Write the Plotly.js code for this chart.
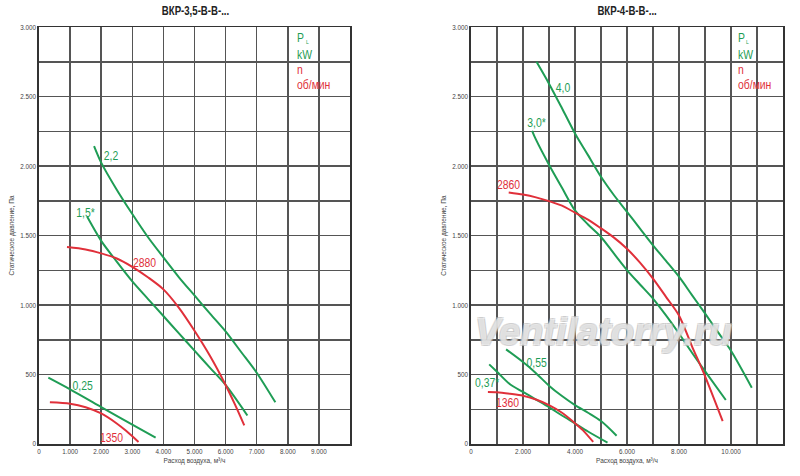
<!DOCTYPE html>
<html>
<head>
<meta charset="utf-8">
<script src="https://cdn.plot.ly/plotly-3.0.1.min.js"></script>
<style>
html,body{margin:0;padding:0;background:#fff;}
#chart{width:800px;height:476px;}
</style>
</head>
<body>
<div id="chart"></div>
<script>
// ---- Left chart: ВКР-3,5-В-В-...
var leftTitle = "ВКР-3,5-В-В-...";
var p22_x = [1770, 2000, 2500, 3000, 3500, 4000, 4500, 5000, 5500, 6000, 6500, 7000, 7600];
var p22_y = [2144, 2025, 1830, 1655, 1490, 1343, 1200, 1069, 938, 810, 662, 513, 300];
var p15_x = [1550, 2000, 2500, 3000, 3500, 4000, 4500, 5000, 5500, 6000, 6700];
var p15_y = [1635, 1462, 1312, 1170, 1045, 921, 796, 672, 548, 425, 205];
var n2880_x = [900, 1500, 2000, 2500, 3000, 3500, 4000, 4500, 5000, 5500, 6000, 6300, 6600];
var n2880_y = [1417, 1400, 1372, 1335, 1275, 1200, 1113, 980, 815, 633, 425, 285, 134];
var p025_x = [300, 1000, 2000, 3000, 3750];
var p025_y = [477, 393, 266, 139, 46];
var n1350_x = [350, 1000, 1500, 2000, 2500, 2800, 3200];
var n1350_y = [300, 290, 265, 220, 148, 95, 15];

// ---- Right chart: ВКР-4-В-В-...
var rightTitle = "ВКР-4-В-В-...";
var p40_x = [2520, 3000, 3500, 4000, 4500, 5000, 5500, 6000, 6500, 7000, 7500, 8000, 8500, 9000, 9500, 10000, 10800];
var p40_y = [2750, 2593, 2416, 2235, 2079, 1923, 1790, 1671, 1550, 1430, 1318, 1204, 1072, 940, 805, 671, 405];
var p30_x = [2350, 2500, 3000, 3500, 4000, 4500, 5000, 5500, 6000, 6500, 7000, 7500, 8000, 8500, 9000, 9800];
var p30_y = [2254, 2190, 2010, 1844, 1681, 1580, 1490, 1370, 1252, 1148, 1046, 925, 795, 657, 524, 317];
var n2860_x = [1450, 2000, 2500, 3000, 3500, 4000, 4500, 5000, 5500, 6000, 6500, 7000, 7500, 8000, 8500, 9000, 9680];
var n2860_y = [1810, 1795, 1775, 1748, 1715, 1665, 1615, 1552, 1485, 1405, 1305, 1190, 1059, 925, 703, 489, 165];
var p055_x = [1350, 2000, 2500, 3000, 3500, 4000, 4500, 5000, 5600];
var p055_y = [681, 590, 510, 420, 345, 280, 225, 165, 60];
var p037_x = [700, 1000, 1500, 2000, 2500, 3000, 3500, 4000, 4500, 5250];
var p037_y = [573, 520, 430, 375, 320, 265, 205, 148, 90, 10];
var n1360_x = [650, 1000, 1500, 2000, 2500, 3000, 3500, 4000, 4300, 4700];
var n1360_y = [375, 373, 362, 348, 320, 280, 225, 150, 100, 15];

// Curve labels
var leftLabels = ["2,2", "1,5*", "2880", "0,25", "1350"];
var leftLabelX = [2315, 1479, 3386, 1405, 2338];
var leftLabelY = [2079, 1669, 1309, 422, 50];
var leftLabelKind = ["p", "p", "n", "p", "n"];
var rightLabels = ["4,0", "3,0*", "2860", "0,55", "0,37*", "1360"];
var rightLabelX = [3526, 2500, 1435, 2526, 602, 1410];
var rightLabelY = [2566, 2312, 1868, 590, 446, 297];
var rightLabelKind = ["p", "p", "n", "p", "p", "n"];

// Unit legend (P with small subscript L, kW, n, об/мин)
var legendTexts = ["P", "kW", "n", "об/мин"];
var legendKind = ["p", "p", "n", "n"];
var legendY = [2928, 2806, 2698, 2590];
var legendXLeft = 8230;
var legendXRight = 10200;
var subText = "L";
var subY = 2890;
var subXLeft = 8520;
var subXRight = 10500;

var leftXTicks = [0, 1000, 2000, 3000, 4000, 5000, 6000, 7000, 8000, 9000];
var rightXTicks = [0, 2000, 4000, 6000, 8000, 10000];
var yTicks = [0, 500, 1000, 1500, 2000, 2500, 3000];

var xTitle = "Расход воздуха, м³/ч";
var yTitle = "Статическое давление, Па";
var watermark = "Ventilatorry.ru";

var GREEN = "#1f9d55";
var RED = "#e0303a";
var FONT = "Liberation Sans, Arial, sans-serif";

function line(x, y, color, xa, ya) {
  return {x: x, y: y, type: "scatter", mode: "lines", xaxis: xa, yaxis: ya,
    line: {color: color, width: 2, shape: "spline", smoothing: 0.8},
    hoverinfo: "skip", showlegend: false};
}

var traces = [
  line(p22_x, p22_y, GREEN, "x", "y"),
  line(p15_x, p15_y, GREEN, "x", "y"),
  line(n2880_x, n2880_y, RED, "x", "y"),
  line(p025_x, p025_y, GREEN, "x", "y"),
  line(n1350_x, n1350_y, RED, "x", "y"),
  line(p40_x, p40_y, GREEN, "x2", "y2"),
  line(p30_x, p30_y, GREEN, "x2", "y2"),
  line(n2860_x, n2860_y, RED, "x2", "y2"),
  line(p055_x, p055_y, GREEN, "x2", "y2"),
  line(p037_x, p037_y, GREEN, "x2", "y2"),
  line(n1360_x, n1360_y, RED, "x2", "y2")
];

var ann = [];
function kindColor(k) { return k === "p" ? GREEN : RED; }
leftLabels.forEach(function (t, i) {
  ann.push({x: leftLabelX[i], y: leftLabelY[i], xref: "x", yref: "y", text: t, showarrow: false,
    xanchor: "center", yanchor: "middle", font: {family: FONT, size: 13, color: kindColor(leftLabelKind[i])}});
});
rightLabels.forEach(function (t, i) {
  ann.push({x: rightLabelX[i], y: rightLabelY[i], xref: "x2", yref: "y2", text: t, showarrow: false,
    xanchor: "center", yanchor: "middle", font: {family: FONT, size: 13, color: kindColor(rightLabelKind[i])}});
});
legendTexts.forEach(function (t, i) {
  ann.push({x: legendXLeft, y: legendY[i], xref: "x", yref: "y", text: t, showarrow: false, align: "left",
    xanchor: "left", yanchor: "middle", font: {family: FONT, size: 13, color: kindColor(legendKind[i])}});
  ann.push({x: legendXRight, y: legendY[i], xref: "x2", yref: "y2", text: t, showarrow: false, align: "left",
    xanchor: "left", yanchor: "middle", font: {family: FONT, size: 13, color: kindColor(legendKind[i])}});
});
ann.push({x: subXLeft, y: subY, xref: "x", yref: "y", text: subText, showarrow: false, align: "left",
  xanchor: "left", yanchor: "middle", font: {family: FONT, size: 5, color: GREEN}});
ann.push({x: subXRight, y: subY, xref: "x2", yref: "y2", text: subText, showarrow: false, align: "left",
  xanchor: "left", yanchor: "middle", font: {family: FONT, size: 5, color: GREEN}});
// chart titles
ann.push({x: 0.244, y: 0.977, xref: "paper", yref: "paper", text: "<b>" + leftTitle + "</b>", showarrow: false,
  xanchor: "center", yanchor: "middle", font: {family: FONT, size: 13, color: "#222"}});
ann.push({x: 0.784, y: 0.977, xref: "paper", yref: "paper", text: "<b>" + rightTitle + "</b>", showarrow: false,
  xanchor: "center", yanchor: "middle", font: {family: FONT, size: 13, color: "#222"}});
// watermark
ann.push({x: 0.754, y: 0.302, xref: "paper", yref: "paper", text: "<i><b>" + watermark + "</b></i>", showarrow: false,
  xanchor: "center", yanchor: "middle",
  font: {family: FONT, size: 38, color: "rgba(255,255,255,0.5)",
    shadow: "1px 1px 0 #bdbdbd, -1px -1px 0 #bdbdbd, 1px -1px 0 #bdbdbd, -1px 1px 0 #bdbdbd"}});

var tickFont = {family: FONT, size: 7, color: "#444"};
var titleFont = {family: FONT, size: 7.5, color: "#444"};
var GRID = "#555";

function xaxis(domain, range, ticks, minorDtick, anchor) {
  return {domain: domain, range: range, anchor: anchor, tickmode: "array", tickvals: ticks,
    showgrid: true, gridcolor: GRID, gridwidth: 1.5, zeroline: false,
    minor: {dtick: minorDtick, tick0: 0, showgrid: true, gridcolor: GRID, gridwidth: 1.5, ticks: ""},
    showline: true, mirror: true, linecolor: "#333", linewidth: 1.6, ticks: "",
    tickfont: tickFont, tickformat: ",d", fixedrange: true,
    title: {text: xTitle, font: titleFont, standoff: 4}};
}
function yaxis(domain, anchor) {
  return {domain: domain, range: [0, 3000], anchor: anchor, tickmode: "array", tickvals: yTicks,
    showgrid: true, gridcolor: GRID, gridwidth: 1.5, zeroline: false,
    minor: {dtick: 250, tick0: 0, showgrid: true, gridcolor: GRID, gridwidth: 1.5, ticks: ""},
    showline: true, mirror: true, linecolor: "#333", linewidth: 1.6, ticks: "",
    tickfont: tickFont, tickformat: ",d", fixedrange: true,
    title: {text: yTitle, font: titleFont, standoff: 3}};
}

var layout = {
  width: 800, height: 476,
  margin: {l: 0, r: 0, t: 0, b: 0},
  paper_bgcolor: "#fff", plot_bgcolor: "#fff",
  separators: ",.",
  showlegend: false,
  xaxis: xaxis([0.04875, 0.4375], [0, 10000], leftXTicks, 1000, "y"),
  yaxis: yaxis([0.0672, 0.943], "x"),
  xaxis2: xaxis([0.58875, 0.97875], [0, 12000], rightXTicks, 1000, "y2"),
  yaxis2: yaxis([0.0672, 0.943], "x2"),
  annotations: ann
};

// The reference uses a condensed (Arial Narrow-like) face; emulate it by
// compressing the rendered glyphs horizontally.
function condense(el, factor) {
  var w = el.getComputedTextLength();
  if (w > 0) {
    el.setAttribute("textLength", (w * factor).toFixed(2));
    el.setAttribute("lengthAdjust", "spacingAndGlyphs");
  }
}

Plotly.newPlot("chart", traces, layout, {displayModeBar: false, staticPlot: true}).then(function (gd) {
  gd.querySelectorAll("text.annotation-text").forEach(function (t) {
    var s = t.textContent;
    if (s.indexOf(watermark) >= 0 || s === subText) return;
    condense(t, s.indexOf("ВКР") >= 0 ? 0.74 : 0.8);
  });
  gd.querySelectorAll("text.xtitle, text.x2title, text.ytitle, text.y2title").forEach(function (t) {
    condense(t, 0.86);
  });
  gd.querySelectorAll("g.xtick text, g.x2tick text, g.ytick text, g.y2tick text").forEach(function (t) {
    condense(t, 0.9);
  });
});
</script>
</body>
</html>
